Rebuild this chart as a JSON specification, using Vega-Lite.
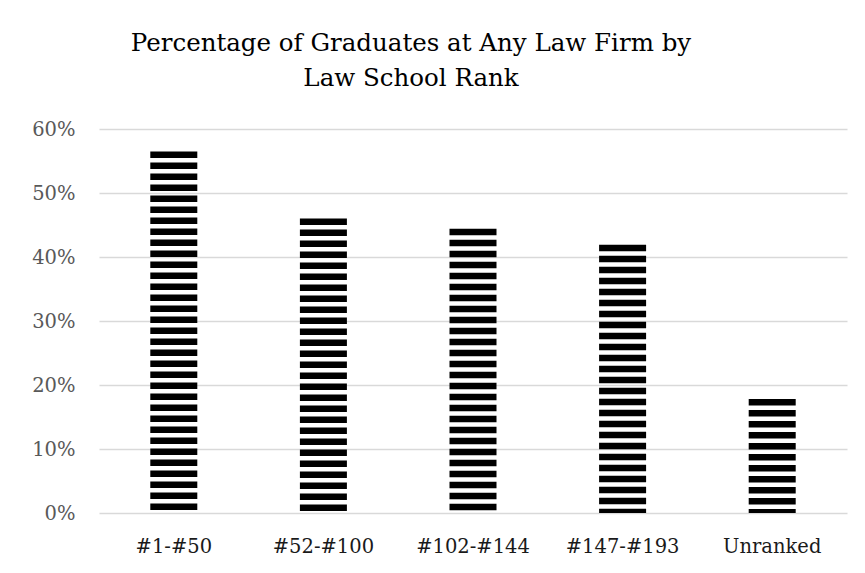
{
  "$schema": "https://vega.github.io/schema/vega-lite/v6.json",
  "autosize": {"type": "none"},
  "width": 748,
  "height": 384,
  "padding": {"left": 99, "top": 129, "right": 18, "bottom": 60},
  "background": "white",
  "title": {
    "text": ["Percentage of Graduates at Any Law Firm by", "Law School Rank"],
    "font": "DejaVu Serif",
    "fontSize": 24.5,
    "fontWeight": "normal",
    "color": "#000000",
    "anchor": "start",
    "align": "center",
    "dx": 312,
    "lineHeight": 35,
    "offset": 28,
    "frame": "group"
  },
  "data": {
    "values": [
      {"rank": "#1-#50", "pct": 0.565},
      {"rank": "#52-#100", "pct": 0.46},
      {"rank": "#102-#144", "pct": 0.444},
      {"rank": "#147-#193", "pct": 0.419},
      {"rank": "Unranked", "pct": 0.178}
    ]
  },
  "mark": {"type": "rule", "strokeWidth": 47, "color": "#000000", "strokeDash": [6.5, 4.5], "strokeCap": "butt"},
  "encoding": {
    "x": {
      "field": "rank",
      "type": "nominal",
      "sort": null,
      "scale": {"paddingInner": 0, "paddingOuter": 0},
      "axis": {
        "title": null,
        "labelAngle": 0,
        "labelFont": "DejaVu Serif",
        "labelFontSize": 19.5,
        "labelColor": "#1a1a1a",
        "labelPadding": 24,
        "domain": false,
        "ticks": false,
        "grid": false
      }
    },
    "y": {
      "field": "pct",
      "type": "quantitative",
      "scale": {"domain": [0, 0.6], "nice": false},
      "axis": {
        "title": null,
        "values": [0, 0.1, 0.2, 0.3, 0.4, 0.5, 0.6],
        "format": ".0%",
        "labelFont": "DejaVu Serif",
        "labelFontSize": 19.5,
        "labelColor": "#595959",
        "labelPadding": 24,
        "domain": false,
        "ticks": false,
        "grid": true,
        "gridColor": "#d9d9d9",
        "gridWidth": 1.3
      }
    },
    "y2": {"datum": 0}
  },
  "config": {"view": {"stroke": null}}
}
